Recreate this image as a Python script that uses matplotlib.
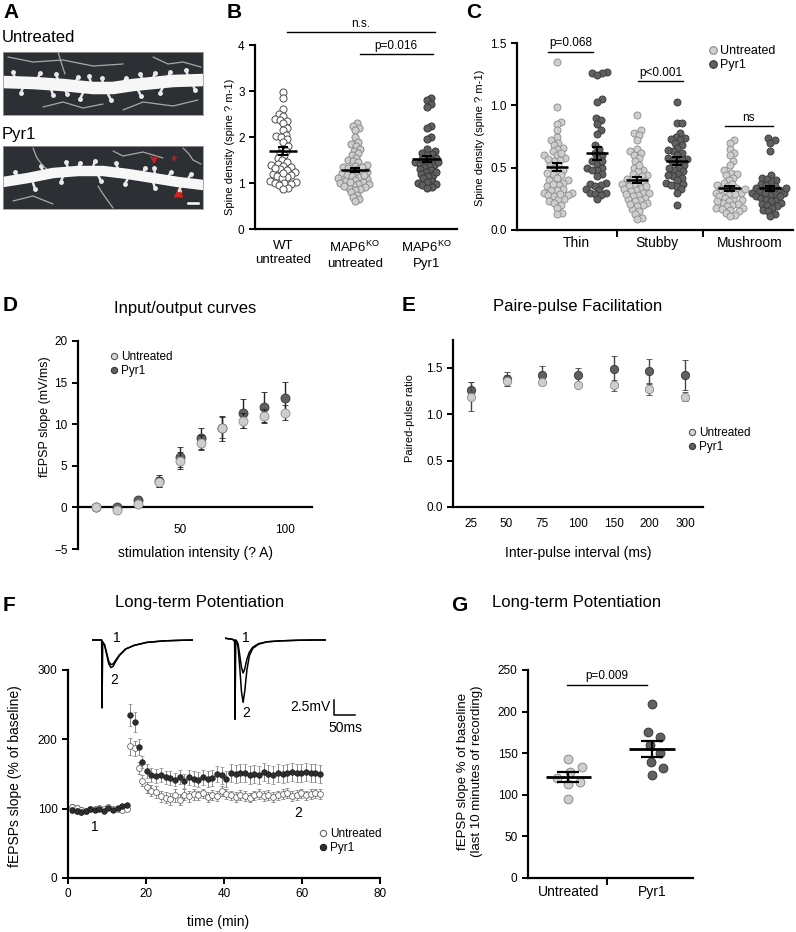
import numpy as np
import matplotlib
matplotlib.use("Agg")
import matplotlib.pyplot as plt
from matplotlib.lines import Line2D
from matplotlib.ticker import FormatStrFormatter

plt.rcParams['font.family'] = ['Liberation Sans', 'DejaVu Sans']
plt.rcParams['mathtext.default'] = 'regular'

# ---------------- DATA ----------------
# Panel B: spine density
B_CATS = ['WT\nuntreated', 'MAP6$^{KO}$\nuntreated', 'MAP6$^{KO}$\nPyr1']
B_WT = [2.97, 2.85, 2.6, 2.5, 2.4, 2.45, 2.38, 2.35, 2.3, 2.2, 2.15, 2.05, 2.03, 2.0, 1.95,
        1.9, 1.8, 1.75, 1.7, 1.65, 1.6, 1.55, 1.5, 1.45, 1.42, 1.4, 1.38, 1.35, 1.3, 1.28,
        1.25, 1.2, 1.18, 1.15, 1.12, 1.1, 1.05, 1.02, 1.0, 0.98, 1.0, 0.95, 0.9, 0.88, 1.22, 1.32]
B_KO = [2.3, 2.25, 2.2, 2.15, 2.0, 1.9, 1.85, 1.8, 1.75, 1.7, 1.65, 1.6, 1.55, 1.5, 1.48, 1.45,
        1.4, 1.38, 1.35, 1.3, 1.32, 1.28, 1.25, 1.22, 1.2, 1.17, 1.15, 1.12, 1.1, 1.07, 1.08, 1.05,
        1.03, 1.0, 0.97, 0.98, 0.95, 0.92, 0.9, 0.87, 0.85, 0.8, 0.75, 0.7, 0.65, 0.6, 1.18, 1.35,
        1.02, 0.93]
B_KOPYR = [2.85, 2.8, 2.72, 2.65, 2.25, 2.2, 2.0, 1.95, 1.75, 1.7, 1.65, 1.62, 1.6, 1.55, 1.5,
           1.48, 1.45, 1.42, 1.4, 1.38, 1.35, 1.3, 1.28, 1.25, 1.2, 1.18, 1.15, 1.1, 1.05, 1.02,
           1.0, 0.98, 0.95, 0.92, 0.9, 1.45, 1.52, 1.25]
B_MEAN = [1.69, 1.28, 1.52]
B_SEM = [0.09, 0.05, 0.07]

# Panel C: spine types
C_CATS = ['Thin', 'Stubby', 'Mushroom']
C_THIN_U = [1.35, 0.99, 0.87, 0.85, 0.8, 0.75, 0.72, 0.7, 0.68, 0.66, 0.65, 0.63, 0.6, 0.6, 0.58,
            0.56, 0.55, 0.53, 0.52, 0.5, 0.48, 0.47, 0.45, 0.44, 0.42, 0.4, 0.4, 0.38, 0.36, 0.35,
            0.33, 0.32, 0.32, 0.3, 0.3, 0.28, 0.28, 0.27, 0.25, 0.25, 0.23, 0.22, 0.2, 0.18, 0.14,
            0.13, 0.62, 0.57, 0.46, 0.37, 0.29]
C_THIN_P = [1.27, 1.26, 1.26, 1.24, 1.05, 1.03, 0.9, 0.88, 0.85, 0.8, 0.77, 0.68, 0.65, 0.62, 0.6,
            0.58, 0.55, 0.53, 0.5, 0.5, 0.48, 0.48, 0.45, 0.43, 0.38, 0.37, 0.36, 0.35, 0.33, 0.32,
            0.3, 0.29, 0.3, 0.28, 0.25, 0.55]
C_STUB_U = [0.92, 0.8, 0.78, 0.76, 0.72, 0.65, 0.63, 0.62, 0.6, 0.58, 0.55, 0.5, 0.48, 0.47, 0.45,
            0.44, 0.43, 0.42, 0.41, 0.4, 0.38, 0.37, 0.36, 0.35, 0.34, 0.33, 0.32, 0.31, 0.3, 0.3,
            0.28, 0.27, 0.26, 0.25, 0.24, 0.23, 0.22, 0.2, 0.19, 0.17, 0.15, 0.13, 0.1, 0.09, 0.52,
            0.39, 0.35, 0.29, 0.21]
C_STUB_P = [1.03, 0.86, 0.86, 0.78, 0.75, 0.74, 0.73, 0.72, 0.7, 0.68, 0.66, 0.63, 0.62, 0.6, 0.58,
            0.57, 0.55, 0.54, 0.52, 0.5, 0.48, 0.47, 0.45, 0.43, 0.42, 0.4, 0.38, 0.37, 0.35, 0.33,
            0.3, 0.2, 0.56, 0.5, 0.44, 0.64, 0.36]
C_MUSH_U = [0.72, 0.7, 0.65, 0.62, 0.6, 0.55, 0.52, 0.48, 0.46, 0.45, 0.44, 0.42, 0.4, 0.38, 0.36,
            0.35, 0.34, 0.33, 0.32, 0.31, 0.3, 0.3, 0.28, 0.27, 0.26, 0.25, 0.24, 0.23, 0.22, 0.21,
            0.2, 0.19, 0.18, 0.18, 0.17, 0.16, 0.15, 0.14, 0.12, 0.11, 0.29, 0.33, 0.23, 0.37]
C_MUSH_P = [0.74, 0.72, 0.7, 0.63, 0.44, 0.42, 0.41, 0.4, 0.38, 0.37, 0.36, 0.35, 0.34, 0.33, 0.32,
            0.31, 0.3, 0.3, 0.29, 0.28, 0.27, 0.26, 0.25, 0.24, 0.23, 0.22, 0.21, 0.2, 0.19, 0.18,
            0.16, 0.15, 0.13, 0.11, 0.34, 0.3, 0.27]
C_MEAN_U = [0.505, 0.40, 0.335]
C_SEM_U = [0.03, 0.025, 0.02]
C_MEAN_P = [0.615, 0.555, 0.335]
C_SEM_P = [0.05, 0.03, 0.02]

# Panel D: input/output
D_X = [10, 20, 30, 40, 50, 60, 70, 80, 90, 100]
D_UNT = [0.05, -0.35, 0.45, 3.1, 5.6, 7.8, 9.6, 10.4, 11.0, 11.4]
D_UNT_ERR = [0.1, 0.2, 0.3, 0.6, 1.0, 0.9, 1.3, 0.9, 0.8, 0.9]
D_PYR = [0.05, 0.05, 0.9, 3.2, 6.0, 8.3, 9.5, 11.3, 12.1, 13.1]
D_PYR_ERR = [0.1, 0.2, 0.3, 0.7, 1.2, 1.3, 1.5, 1.7, 1.8, 2.0]

# Panel E: paired-pulse
E_INTERVALS = ['25', '50', '75', '100', '150', '200', '300']
E_UNT = [1.19, 1.36, 1.35, 1.32, 1.31, 1.27, 1.19]
E_UNT_ERR = [0.16, 0.06, 0.03, 0.03, 0.06, 0.06, 0.05]
E_PYR = [1.26, 1.38, 1.42, 1.42, 1.49, 1.47, 1.42]
E_PYR_ERR = [0.09, 0.08, 0.10, 0.08, 0.14, 0.13, 0.16]

# Panel F: LTP time course
F_T_BASE = [1.0, 2.2, 3.3, 4.5, 5.7, 6.8, 8.0, 9.2, 10.3, 11.5, 12.7, 13.8, 15.0]
F_T_POST = [16.0, 17.1, 18.1, 19.1, 20.2, 21.4, 22.6, 23.8, 25.0, 26.2, 27.4, 28.6, 29.8, 31.0,
            32.2, 33.4, 34.6, 35.8, 37.0, 38.2, 39.4, 40.6, 41.8, 43.0, 44.2, 45.4, 46.6, 47.8,
            49.0, 50.2, 51.4, 52.6, 53.8, 55.0, 56.2, 57.4, 58.6, 59.8, 61.0, 62.2, 63.4, 64.6]
F_UNT_BASE = [103, 101, 98, 97, 99, 100, 101, 99, 102, 100, 99, 98, 99]
F_PYR_BASE = [98, 97, 95, 96, 100, 98, 99, 97, 101, 98, 101, 104, 105]
F_BASE_ERR = [4, 4, 4, 3, 3, 3, 3, 3, 3, 3, 3, 3, 3]
F_UNT_POST = [190, 187, 159, 140, 131, 126, 124, 118, 116, 114, 119, 113, 120, 118, 121, 119, 122,
              117, 120, 118, 125, 121, 119, 117, 120, 118, 116, 119, 121, 118, 120, 117, 119, 121,
              123, 118, 120, 122, 119, 121, 122, 121]
F_PYR_POST = [235, 225, 189, 167, 154, 148, 147, 148, 145, 144, 142, 146, 140, 145, 143, 142, 145,
              143, 144, 150, 148, 143, 151, 150, 152, 151, 149, 150, 148, 153, 150, 149, 151, 150,
              152, 153, 152, 151, 153, 152, 151, 150]
F_UNT_POST_ERR = [12, 11, 9, 8, 8, 8, 8, 8, 8, 9, 9, 8, 8, 8, 8, 7, 7, 7, 7, 7, 7, 7, 7, 7, 7, 7,
                  7, 7, 7, 7, 7, 7, 7, 7, 7, 7, 7, 7, 7, 7, 7, 7]
F_PYR_POST_ERR = [16, 14, 11, 9, 10, 10, 10, 10, 10, 10, 10, 10, 10, 11, 11, 11, 11, 12, 12, 12, 12,
                  12, 13, 13, 13, 13, 13, 13, 13, 13, 13, 13, 13, 13, 13, 13, 13, 13, 13, 13, 13, 13]

# Example traces (ms, mV)
TR1_T = [0, 20, 23, 24, 25, 30, 35, 40, 45, 50, 57, 65, 80, 100, 130, 170, 210, 240]
TR1_V1 = [0, 0, 0, -11.3, -0.3, -0.8, -2.2, -3.6, -4.1, -4.0, -3.3, -2.5, -1.5, -0.9, -0.4, -0.15, -0.05, 0]
TR1_V2 = [0, 0, 0, -11.3, -0.3, -0.9, -2.5, -4.0, -4.6, -4.4, -3.5, -2.6, -1.5, -0.9, -0.4, -0.15, -0.05, 0]
TR2_T = [0, 18, 21, 23, 24, 25, 28, 31, 35, 39, 43, 47, 52, 58, 66, 80, 100, 130, 170, 210, 240]
TR2_V1 = [0.3, 0.1, 0, -0.3, -13.2, 0, -0.2, -0.6, -2.5, -4.5, -5.5, -4.8, -3.2, -2.0, -1.2, -0.6, -0.3, -0.15, -0.05, 0, 0]
TR2_V2 = [0.3, 0.1, 0, -0.3, -13.2, 0, -0.3, -1.2, -4.5, -8.5, -10.4, -8.5, -5.0, -2.6, -1.4, -0.7, -0.3, -0.15, -0.05, 0, 0]

# Panel G: LTP summary
G_CATS = ['Untreated', 'Pyr1']
G_UNT = [142.5, 133, 127.6, 120, 115.6, 112.8, 94.7]
G_PYR = [209, 176, 170, 160, 150, 139, 132, 124]
G_MEAN = [121, 155]
G_SEM = [6, 10]

# Panel A: dendrite sketches (x: 0-200, y: 0-63 image px)
A1_DEND_X = [0, 30, 60, 90, 110, 130, 150, 170, 200]
A1_DEND_Y = [30, 31, 33, 36, 36, 33, 31, 29, 28]
A2_DEND_X = [0, 25, 50, 75, 100, 125, 150, 175, 200]
A2_DEND_Y = [36, 32, 27, 25, 25, 28, 32, 36, 39]
A1_SPINES = [(12, 26, 10, 20), (35, 26, 37, 21), (55, 28, 53, 22), (72, 31, 75, 25), (88, 31, 86, 24),
             (120, 31, 123, 26), (140, 28, 137, 22), (165, 26, 167, 20), (185, 24, 183, 18),
             (20, 35, 18, 41), (48, 37, 50, 43), (80, 41, 77, 47), (105, 42, 108, 48),
             (135, 38, 138, 44), (160, 35, 157, 41), (190, 33, 192, 38), (62, 37, 64, 42),
             (100, 31, 99, 26), (150, 26, 152, 21)]
A2_SPINES = [(15, 31, 12, 26), (40, 26, 38, 20), (65, 22, 63, 16), (90, 21, 92, 15), (115, 23, 113, 17),
             (140, 27, 142, 22), (152, 28, 151, 22), (185, 33, 188, 28),
             (30, 37, 32, 43), (60, 30, 58, 36), (95, 29, 98, 35), (125, 32, 122, 38),
             (150, 36, 152, 42), (178, 40, 176, 45), (75, 22, 77, 17), (165, 31, 168, 26)]
A1_FIBERS = [([5, 30, 60, 90, 120], [5, 10, 8, 14, 12]), ([150, 165, 180, 198], [5, 12, 10, 15]),
             ([40, 60, 80, 100], [55, 50, 56, 52]), ([120, 140, 170, 195], [58, 50, 54, 48]),
             ([55, 58, 62], [0, 10, 22])]
A2_FIBERS = [([30, 34, 40, 45], [2, 12, 20, 24]), ([110, 120, 140, 160], [5, 10, 6, 12]),
             ([95, 100, 105, 110], [40, 48, 55, 62]), ([10, 30, 50], [55, 50, 58]),
             ([180, 186, 190, 198], [2, 8, 14, 18])]

# ---------------- STYLE ----------------
W, H = 796, 932
LIGHT, LIGHT_E = '#cecece', '#8a8a8a'
DARK, DARK_E = '#606060', '#383838'
TICK_FS = 8.5

fig = plt.figure(figsize=(W / 100, H / 100), dpi=100)


def box(l, t, r, b):
    return [l / W, 1 - b / H, (r - l) / W, (b - t) / H]


def ftext(x, y, s, **kw):
    return fig.text(x / W, 1 - y / H, s, **kw)


def style(ax, lsize=TICK_FS):
    ax.spines[['top', 'right']].set_visible(False)
    for s in ['left', 'bottom']:
        ax.spines[s].set_linewidth(1.6)
    ax.tick_params(width=1.4, length=4, direction='out', labelsize=lsize, colors='black')


def swarm_x(ax, center, vals, d_px):
    vals = np.asarray(vals, float)
    pts = ax.transData.transform(np.column_stack([np.full(len(vals), center), vals]))
    ys = pts[:, 1]
    offs = np.zeros(len(vals))
    placed = []
    for i in np.argsort(ys):
        y = ys[i]
        neigh = [(px, py) for px, py in placed if abs(py - y) < d_px]
        cands = [0.0]
        for px, py in neigh:
            dx = np.sqrt(d_px ** 2 - (py - y) ** 2)
            cands += [px + dx, px - dx]
        cands.sort(key=abs)
        choice = cands[-1]
        for c in cands:
            if all((c - px) ** 2 + (y - py) ** 2 >= d_px ** 2 - 1e-6 for px, py in neigh):
                choice = c
                break
        placed.append((choice, y))
        offs[i] = choice
    back = ax.transData.inverted().transform(np.column_stack([pts[:, 0] + offs, ys]))
    return back[:, 0]


def mean_sem(ax, x, m, s, hw, cw, lw=1.8):
    ax.hlines(m, x - hw, x + hw, color='black', lw=lw, zorder=5)
    ax.vlines(x, m - s, m + s, color='black', lw=lw * 0.8, zorder=5)
    ax.hlines([m - s, m + s], x - cw, x + cw, color='black', lw=lw * 0.8, zorder=5)


def legend(ax, items, x, y, fs=8, ms=5.5):
    handles = [Line2D([], [], marker='o', ls='', mfc=fc, mec=ec, mew=0.8, ms=ms) for fc, ec, _ in items]
    ax.legend(handles, [lab for _, _, lab in items], loc='upper left',
              bbox_to_anchor=(x / W, 1 - y / H), bbox_transform=fig.transFigure,
              frameon=False, handletextpad=0.15, labelspacing=0.15, borderpad=0,
              borderaxespad=0, handlelength=0.9, fontsize=fs)


# ---------------- PANEL A ----------------
ftext(3, 3, 'A', fontsize=15, fontweight='bold', va='top')
ftext(2, 37, 'Untreated', fontsize=12, va='center')
ftext(2, 134, 'Pyr1', fontsize=12, va='center')
for (t, b), dx, dy, spines, fibers, dlw in [((52, 115), A1_DEND_X, A1_DEND_Y, A1_SPINES, A1_FIBERS, 9),
                                             ((146, 209), A2_DEND_X, A2_DEND_Y, A2_SPINES, A2_FIBERS, 7.5)]:
    axA = fig.add_axes(box(3, t, 203, b))
    axA.set_facecolor('#2c3034')
    axA.set_xlim(0, 200)
    axA.set_ylim(63, 0)
    axA.set_xticks([])
    axA.set_yticks([])
    for s in axA.spines.values():
        s.set_edgecolor('#9a9a9a')
        s.set_linewidth(0.6)
    for fx, fy in fibers:
        axA.plot(fx, fy, color='#a8a8a8', lw=0.9, solid_capstyle='round')
    for x0, y0, x1, y1 in spines:
        axA.plot([x0, x1], [y0, y1], color='#e6e6e6', lw=1.8, solid_capstyle='round')
        axA.scatter([x1], [y1], s=12, color='#f2f2f2', lw=0)
    axA.plot(dx, dy, color='#f7f7f7', lw=dlw, solid_capstyle='round', solid_joinstyle='round')
    if t == 146:
        axA.annotate('', xy=(151, 21), xytext=(151, 9),
                     arrowprops=dict(arrowstyle='->', color='#d62020', lw=1.2))
        axA.text(171, 16, '*', color='#d62020', fontsize=12, ha='center', va='center')
        axA.scatter([175], [46], marker='^', s=50, color='#d62020', lw=0)
        axA.plot([185, 195], [57, 57], color='white', lw=1.8)

# ---------------- PANEL B ----------------
ftext(227, 3, 'B', fontsize=15, fontweight='bold', va='top')
axB = fig.add_axes(box(255, 45, 457, 229))
style(axB)
axB.set_xlim(0.61, 3.42)
axB.set_ylim(0, 4)
axB.set_yticks([0, 1, 2, 3, 4])
axB.set_xticks([1, 2, 3])
axB.set_xticklabels(B_CATS, fontsize=9.5, linespacing=1.25)
axB.tick_params(axis='x', length=0, pad=8)
for i, (vals, fc, ec) in enumerate([(B_WT, 'white', '#4a4a4a'), (B_KO, LIGHT, LIGHT_E),
                                    (B_KOPYR, DARK, DARK_E)]):
    xs = swarm_x(axB, i + 1, vals, 5.0)
    axB.scatter(xs, vals, s=26, facecolor=fc, edgecolor=ec, lw=0.7, zorder=3)
    mean_sem(axB, i + 1, B_MEAN[i], B_SEM[i], 0.2, 0.07)
axB.plot([1.05, 3.11], [4.28, 4.28], color='black', lw=1, clip_on=False)
axB.text(2.08, 4.33, 'n.s.', ha='center', va='bottom', fontsize=8.5)
axB.plot([2.07, 3.08], [3.8, 3.8], color='black', lw=1, clip_on=False)
axB.text(2.575, 3.85, 'p=0.016', ha='center', va='bottom', fontsize=8.5)
ftext(230, 147, 'Spine density (spine ? m-1)', rotation=90, ha='center', va='center', fontsize=8)

# ---------------- PANEL C ----------------
ftext(466, 3, 'C', fontsize=15, fontweight='bold', va='top')
axC = fig.add_axes(box(517, 43, 793, 230))
style(axC)
axC.set_xlim(0.5, 3.5)
axC.set_ylim(0, 1.5)
axC.set_yticks([0, 0.5, 1.0, 1.5])
axC.yaxis.set_major_formatter(FormatStrFormatter('%.1f'))
C_CENTERS = [1.15, 2.02, 3.03]
C_OFF = 0.22
axC.set_xticks(C_CENTERS)
axC.set_xticklabels(C_CATS, fontsize=10)
axC.tick_params(axis='x', which='major', length=0, pad=4)
axC.set_xticks([1.585, 2.525], minor=True)
axC.tick_params(axis='x', which='minor', length=5, width=1.4, direction='out')
groups_u = [C_THIN_U, C_STUB_U, C_MUSH_U]
groups_p = [C_THIN_P, C_STUB_P, C_MUSH_P]
for i, c in enumerate(C_CENTERS):
    for vals, off, fc, ec, m, s in [(groups_u[i], -C_OFF, LIGHT, LIGHT_E, C_MEAN_U[i], C_SEM_U[i]),
                                    (groups_p[i], C_OFF, DARK, DARK_E, C_MEAN_P[i], C_SEM_P[i])]:
        xs = swarm_x(axC, c + off, vals, 5.4)
        axC.scatter(xs, vals, s=26, facecolor=fc, edgecolor=ec, lw=0.6, zorder=3)
        mean_sem(axC, c + off, m, s, 0.12, 0.055)
for x0, x1, y, lab in [(0.84, 1.33, 1.43, 'p=0.068'), (1.82, 2.30, 1.195, 'p<0.001'),
                       (2.76, 3.28, 0.834, 'ns')]:
    axC.plot([x0, x1], [y, y], color='black', lw=1, clip_on=False)
    axC.text((x0 + x1) / 2, y + 0.02, lab, ha='center', va='bottom', fontsize=8.5)
legend(axC, [(LIGHT, LIGHT_E, 'Untreated'), (DARK, DARK_E, 'Pyr1')], 707, 45, fs=9, ms=5.5)
ftext(480, 138, 'Spine density (spine ? m-1)', rotation=90, ha='center', va='center', fontsize=8)

# ---------------- PANEL D ----------------
ftext(3, 296, 'D', fontsize=15, fontweight='bold', va='top')
ftext(185, 308, 'Input/output curves', fontsize=12, ha='center', va='center')
axD = fig.add_axes(box(78, 341, 312, 549))
style(axD)
axD.spines['bottom'].set_position(('data', 0))
axD.set_xlim(1.4, 113)
axD.set_ylim(-5, 20)
axD.set_yticks([-5, 0, 5, 10, 15, 20])
axD.set_xticks([50, 100])
axD.tick_params(axis='x', length=0, pad=12)
axD.errorbar(D_X, D_PYR, yerr=D_PYR_ERR, fmt='o', ms=6.5, mfc=DARK, mec=DARK_E, mew=0.6,
             ecolor='#222222', elinewidth=1, capsize=2.5, capthick=1, zorder=3)
axD.errorbar(D_X, D_UNT, yerr=D_UNT_ERR, fmt='o', ms=6.5, mfc=LIGHT, mec=LIGHT_E, mew=0.6,
             ecolor='#222222', elinewidth=1, capsize=2.5, capthick=1, zorder=4)
legend(axD, [('#d6d6d6', '#555555', 'Untreated'), (DARK, DARK_E, 'Pyr1')], 109, 351, fs=8.5, ms=4.5)
ftext(45, 417, 'fEPSP slope (mV/ms)', rotation=90, ha='center', va='center', fontsize=9)
ftext(195, 553, 'stimulation intensity (? A)', ha='center', va='center', fontsize=10)

# ---------------- PANEL E ----------------
ftext(402, 296, 'E', fontsize=15, fontweight='bold', va='top')
ftext(578, 307, 'Paire-pulse Facilitation', fontsize=12, ha='center', va='center')
axE = fig.add_axes(box(453, 340, 703, 507))
style(axE)
axE.set_xlim(-0.5, 6.5)
axE.set_ylim(0, 1.8)
axE.set_yticks([0, 0.5, 1.0, 1.5])
axE.yaxis.set_major_formatter(FormatStrFormatter('%.1f'))
xE = np.arange(len(E_INTERVALS))
axE.set_xticks(xE)
axE.set_xticklabels(E_INTERVALS)
axE.tick_params(axis='x', length=0, pad=8)
axE.errorbar(xE, E_PYR, yerr=E_PYR_ERR, fmt='o', ms=6, mfc=DARK, mec=DARK_E, mew=0.6,
             ecolor='#444444', elinewidth=1, capsize=2.5, capthick=1, zorder=3)
axE.errorbar(xE, E_UNT, yerr=E_UNT_ERR, fmt='o', ms=6, mfc=LIGHT, mec=LIGHT_E, mew=0.6,
             ecolor='#444444', elinewidth=1, capsize=2.5, capthick=1, zorder=4)
legend(axE, [('#d6d6d6', '#555555', 'Untreated'), (DARK, DARK_E, 'Pyr1')], 687, 427, fs=8.5, ms=4.5)
ftext(410, 418, 'Paired-pulse ratio', rotation=90, ha='center', va='center', fontsize=8)
ftext(578, 553, 'Inter-pulse interval (ms)', ha='center', va='center', fontsize=10)

# ---------------- PANEL F ----------------
ftext(3, 596, 'F', fontsize=15, fontweight='bold', va='top')
ftext(200, 603, 'Long-term Potentiation', fontsize=12, ha='center', va='center')
axF = fig.add_axes(box(68, 670, 380, 878))
style(axF)
axF.set_xlim(0, 80)
axF.set_ylim(0, 300)
axF.set_xticks([0, 20, 40, 60, 80])
axF.set_yticks([0, 100, 200, 300])
tF = F_T_BASE + F_T_POST
axF.errorbar(tF, F_UNT_BASE + F_UNT_POST, yerr=F_BASE_ERR + F_UNT_POST_ERR, fmt='o', ms=4.2,
             mfc='white', mec='#666666', mew=0.6, ecolor='#888888', elinewidth=0.7,
             capsize=1.5, capthick=0.7, zorder=3)
axF.errorbar(tF, F_PYR_BASE + F_PYR_POST, yerr=F_BASE_ERR + F_PYR_POST_ERR, fmt='o', ms=4.0,
             mfc='#2e2e2e', mec='#1a1a1a', mew=0.5, ecolor='#888888', elinewidth=0.7,
             capsize=1.5, capthick=0.7, zorder=4)
axF.text(6.9, 74, '1', fontsize=10, ha='center', va='center')
axF.text(59, 94, '2', fontsize=10, ha='center', va='center')
legend(axF, [('white', '#666666', 'Untreated'), ('#2e2e2e', '#1a1a1a', 'Pyr1')], 318, 828, fs=8.5, ms=4.5)
ftext(15, 776, 'fEPSPs slope (% of baseline)', rotation=90, ha='center', va='center', fontsize=10)
ftext(218, 922, 'time (min)', ha='center', va='center', fontsize=10)

# example traces
for l, r, tt, v1, v2, lab2 in [(92, 193, TR1_T, TR1_V1, TR1_V2, (52, -6.7)),
                               (225, 326, TR2_T, TR2_V1, TR2_V2, (50, -12.2))]:
    axT = fig.add_axes(box(l, 634, r, 721))
    axT.set_xlim(0, 240)
    axT.set_ylim(-13.5, 1)
    axT.axis('off')
    axT.plot(tt, v1, color='black', lw=1.1)
    axT.plot(tt, v2, color='black', lw=1.1)
    axT.text(60 if l == 92 else 50, 0.3, '1', fontsize=10, ha='center', va='center')
    axT.text(lab2[0], lab2[1], '2', fontsize=10, ha='center', va='center')
    if l == 225:
        axT.plot([259, 259, 309], [-10, -12.5, -12.5], color='black', lw=1.1, clip_on=False)
        axT.text(250, -11.2, '2.5mV', fontsize=10, ha='right', va='center')
        axT.text(286, -14.6, '50ms', fontsize=10, ha='center', va='center')

# ---------------- PANEL G ----------------
ftext(451, 596, 'G', fontsize=15, fontweight='bold', va='top')
ftext(577, 603, 'Long-term Potentiation', fontsize=12, ha='center', va='center')
axG = fig.add_axes(box(528, 670, 693, 878))
style(axG)
axG.set_xlim(-0.48, 1.49)
axG.set_ylim(0, 250)
axG.set_yticks([0, 50, 100, 150, 200, 250])
axG.set_xticks([0, 1])
axG.set_xticklabels(G_CATS, fontsize=10)
axG.tick_params(axis='x', which='major', length=0, pad=5)
axG.set_xticks([0.464], minor=True)
axG.tick_params(axis='x', which='minor', length=5, width=1.4, direction='out')
for i, (vals, fc, ec) in enumerate([(G_UNT, LIGHT, LIGHT_E), (G_PYR, DARK, DARK_E)]):
    xs = swarm_x(axG, i, vals, 12.5)
    axG.scatter(xs, vals, s=40, facecolor=fc, edgecolor=ec, lw=0.7, zorder=3)
    mean_sem(axG, i, G_MEAN[i], G_SEM[i], 0.27, 0.13, lw=2)
axG.plot([-0.01, 0.94], [232, 232], color='black', lw=1, clip_on=False)
axG.text(0.465, 235, 'p=0.009', ha='center', va='bottom', fontsize=8.5)
ftext(470, 771, 'fEPSP slope % of baseline\n(last 10 minutes of recording)', rotation=90,
      ha='center', va='center', fontsize=9.5, linespacing=1.2)

fig.savefig('out.png', dpi=100)
